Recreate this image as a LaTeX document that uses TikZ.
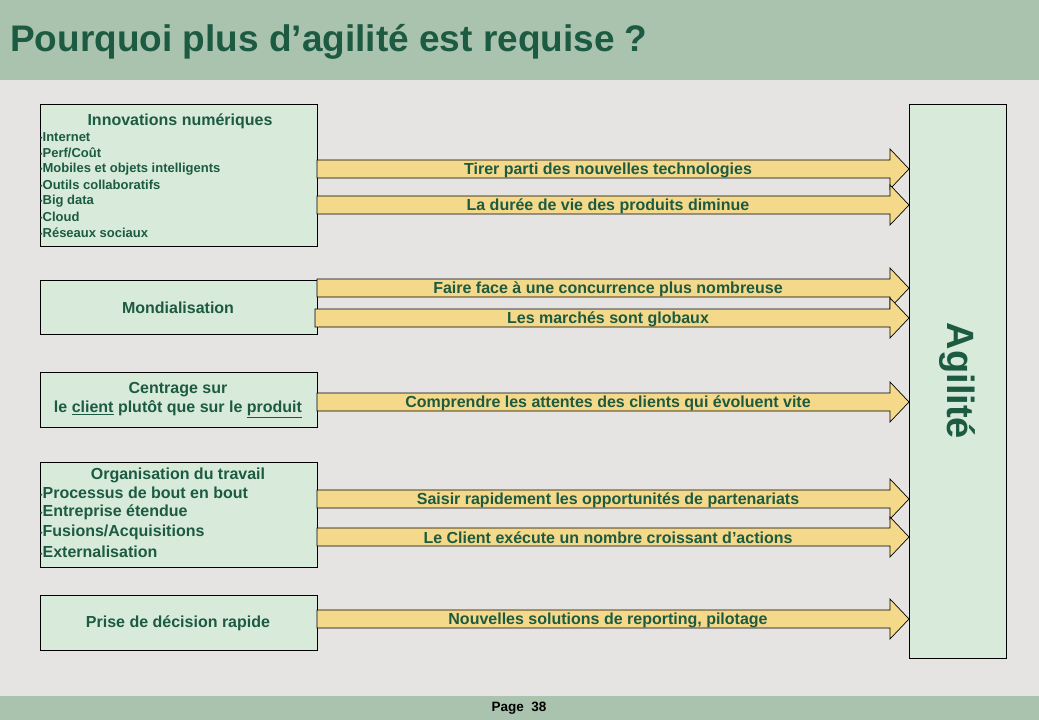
\documentclass[tikz,border=0pt]{standalone}
\usepackage{fontspec}
\setmainfont{Liberation Sans}
\usetikzlibrary{positioning}
\definecolor{bgGray}{HTML}{E6E4E3}
\definecolor{bandGreen}{HTML}{AAC3AF}
\definecolor{boxGreen}{HTML}{D8EBDA}
\definecolor{arrowYellow}{HTML}{F4D98A}
\definecolor{txtGreen}{HTML}{1D5A42}
\newcommand{\bul}{{\scriptsize\raisebox{0.25ex}{\textbullet}}}
\tikzset{cause/.style={draw=black, fill=boxGreen, line width=0.8pt},
        lbl/.style={text=txtGreen, font=\bfseries, inner sep=0pt},
        blockarrow/.style={draw=black, fill=arrowYellow, line width=0.7pt}}
\begin{document}
\begin{tikzpicture}[x=1pt, y=-1pt]
    \fill[bgGray] (0,0) rectangle (1039,720);
    \fill[bandGreen] (0,0) rectangle (1039,80);
    \fill[bandGreen] (0,696) rectangle (1039,720);
    \node[lbl, anchor=west, font=\bfseries\fontsize{37}{40}\selectfont] (title) at (10,42) {Pourquoi plus d’agilité est requise ?};
    \node[lbl, text=black, font=\bfseries\fontsize{13.5}{15}\selectfont] (page) at (519,708) {Page~~38};

    % cause boxes
    \draw[cause] (40,104) rectangle (317,246) coordinate (innov);
    \draw[cause] (40,280) rectangle (317,334) coordinate (mondial);
    \draw[cause] (40,372) rectangle (317,427) coordinate (centrage);
    \draw[cause] (40,462) rectangle (317,567) coordinate (orga);
    \draw[cause] (40,595) rectangle (317,650) coordinate (prise);
    \draw[cause] (909,104) rectangle (1006,658) coordinate (agil);

    \node[lbl, font=\bfseries\fontsize{16}{18}\selectfont] (innovT) at (180,121) {Innovations numériques};
    \foreach \t [count=\i] in {Internet,Perf/Coût,Mobiles et objets intelligents,Outils collaboratifs,Big data,Cloud,Réseaux sociaux}
        \node[lbl, anchor=west, font=\bfseries\fontsize{13}{14}\selectfont] (innov\i) at (40,{121+16*\i}) {\bul\t};
    \node[lbl, font=\bfseries\fontsize{16}{18}\selectfont] (mondialT) at (178,308) {Mondialisation};
    \node[lbl, align=center, font=\bfseries\fontsize{16}{19}\selectfont] (centrageT) at (178,400) {Centrage sur\\le \underline{client} plutôt que sur le \underline{produit}};
    \node[lbl, font=\bfseries\fontsize{16}{18}\selectfont] (orgaT) at (178,475) {Organisation du travail};
    \foreach \t [count=\i] in {Processus de bout en bout,Entreprise étendue,Fusions/Acquisitions,Externalisation}
        \node[lbl, anchor=west, font=\bfseries\fontsize{16}{18}\selectfont] (orga\i) at (40,{473.5+19.5*\i}) {\bul\t};
    \node[lbl, font=\bfseries\fontsize{16}{18}\selectfont] (priseT) at (178,623) {Prise de décision rapide};
    \node[lbl, rotate=-90, font=\bfseries\fontsize{38}{40}\selectfont] (agilT) at (957,381) {Agilité};

    % block arrows
    \foreach \y/\xs/\t [count=\i] in {169/317/Tirer parti des nouvelles technologies,
            205/317/La durée de vie des produits diminue,
            288/317/Faire face à une concurrence plus nombreuse,
            318/315/Les marchés sont globaux,
            402/317/Comprendre les attentes des clients qui évoluent vite,
            499/317/Saisir rapidement les opportunités de partenariats,
            537/317/Le Client exécute un nombre croissant d’actions,
            619/317/Nouvelles solutions de reporting{,} pilotage} {
        \draw[blockarrow] (\xs,\y-9) -- (890,\y-9) -- (890,\y-20) -- (909,\y) -- (890,\y+20)
            -- (890,\y+9) -- (\xs,\y+9) -- cycle;
        \node[lbl, font=\bfseries\fontsize{16}{18}\selectfont] (arr\i) at (608,\y+1) {\t};
    }
\end{tikzpicture}
\end{document}
